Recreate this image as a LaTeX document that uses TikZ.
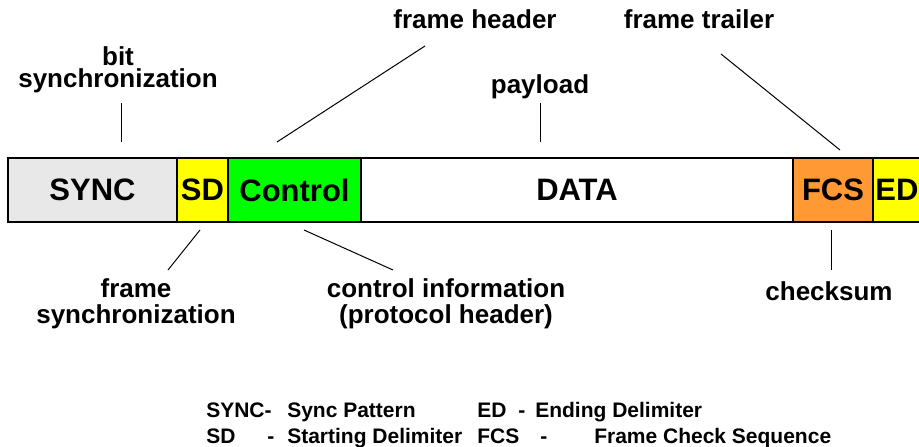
\documentclass[tikz,border=0pt]{standalone}
\usepackage{fontspec}
\setmainfont{Liberation Sans}

\definecolor{syncgray}{HTML}{E8E8E8}
\definecolor{delimyellow}{HTML}{FFFF00}
\definecolor{ctrlgreen}{HTML}{00FF00}
\definecolor{fcsorange}{HTML}{FF9933}

\tikzset{
  field/.style={draw, line width=0.8pt, minimum height=48pt, inner sep=0pt,
    font=\bfseries\fontsize{23.25}{28}\selectfont},
  caption/.style={align=center, inner sep=0pt, anchor=base,
    font=\bfseries\fontsize{19.5}{19.5}\selectfont},
  legend/.style={anchor=base west, inner sep=0pt,
    font=\bfseries\fontsize{15.75}{19}\selectfont},
  pointer/.style={line width=0.75pt}
}

\begin{document}
\begin{tikzpicture}[x=0.75pt,y=-0.75pt]
  \useasboundingbox (0,0) rectangle (919,446);
  \clip (0,0) rectangle (919,446);

  % the frame fields
  \begin{scope}[every node/.style={field}]
    \node[fill=syncgray,    minimum width=126.75pt] (sync) at (92.5,190)  {SYNC};
    \node[fill=delimyellow, minimum width=38.25pt]  (sd)   at (202.5,190) {SD};
    \node[fill=ctrlgreen,   minimum width=99.75pt]  (ctrl) at (294.5,190) {Control};
    \node[fill=white,       minimum width=324pt]    (data) at (577,190)   {DATA};
    \node[fill=fcsorange,   minimum width=60pt]     (fcs)  at (833,190)   {FCS};
    \node[fill=delimyellow, minimum width=36pt]     (ed)   at (897,190)   {ED};
  \end{scope}

  % captions above and below (base = last line)
  \begin{scope}[every node/.style={caption}]
    \node (bitlbl)  at (118,87)  {bit\\[-3pt]synchronization};
    \node (hdrlbl)  at (475,28)  {frame header};
    \node (paylbl)  at (540,93)  {payload};
    \node (trllbl)  at (699,28)  {frame trailer};
    \node (fsynlbl) at (136,323) {frame\\synchronization};
    \node (ctrllbl) at (446,323) {control information\\(protocol header)};
    \node (cslbl)   at (829,300) {checksum};
  \end{scope}

  % pointer ends
  \coordinate (bit-a)  at (121,103); \coordinate (bit-b)  at (121,142);
  \coordinate (hdr-a)  at (425,46);  \coordinate (hdr-b)  at (277,142);
  \coordinate (pay-a)  at (540,103); \coordinate (pay-b)  at (540,142);
  \coordinate (trl-a)  at (721,54);  \coordinate (trl-b)  at (840,150);
  \coordinate (fsyn-a) at (200,230); \coordinate (fsyn-b) at (168,270);
  \coordinate (ctrl-a) at (304,230); \coordinate (ctrl-b) at (393,270);
  \coordinate (cs-a)   at (831,230); \coordinate (cs-b)   at (831,270);

  \begin{scope}[every path/.style={pointer}]
    \draw (bit-a)  -- (bit-b);
    \draw (hdr-a)  -- (hdr-b);
    \draw (pay-a)  -- (pay-b);
    \draw (trl-a)  -- (trl-b);
    \draw (fsyn-a) -- (fsyn-b);
    \draw (ctrl-a) -- (ctrl-b);
    \draw (cs-a)   -- (cs-b);
  \end{scope}

  % abbreviations
  \begin{scope}[every node/.style={legend}]
    \node (k1) at (206,417) {SYNC-};
    \node (v1) at (287,417) {Sync Pattern};
    \node (k2) at (477,417) {ED};
    \node (d2) at (518,417) {-};
    \node (v2) at (535,417) {Ending Delimiter};
    \node (k3) at (206,443) {SD};
    \node (d3) at (267,443) {-};
    \node (v3) at (287,443) {Starting Delimiter};
    \node (k4) at (477,443) {FCS};
    \node (d4) at (540,443) {-};
    \node (v4) at (594,443) {Frame Check Sequence};
  \end{scope}

\end{tikzpicture}
\end{document}
